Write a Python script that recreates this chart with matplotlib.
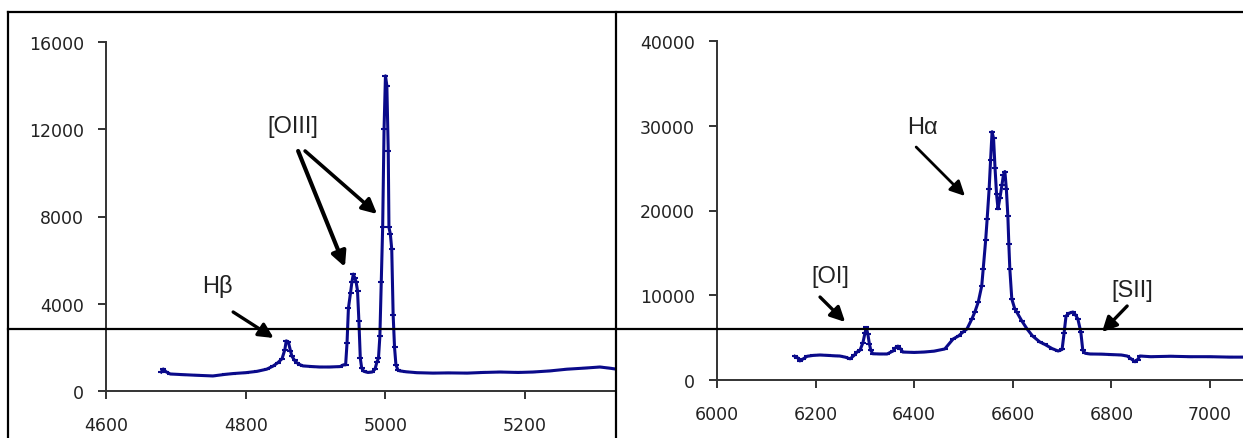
import numpy as np
import matplotlib.pyplot as plt
from matplotlib.lines import Line2D

# blue side of the spectrum (Hb, [OIII])
blue_wl = [4679, 4682, 4686, 4692, 4710, 4730, 4753, 4770, 4782, 4800,
           4816, 4830, 4839, 4846, 4852, 4856, 4858, 4861, 4864, 4866,
           4870, 4873, 4878, 4882, 4895, 4906, 4920, 4935, 4940, 4943,
           4945, 4947, 4950, 4952, 4954, 4956, 4958, 4960, 4962, 4964,
           4966, 4969, 4975, 4981, 4985, 4988, 4990, 4992, 4994, 4996,
           4998, 5000, 5002, 5004, 5005, 5007, 5009, 5011, 5013, 5015,
           5018, 5021, 5030, 5045, 5068, 5090, 5117, 5140, 5164, 5190,
           5211, 5235, 5260, 5285, 5307, 5320, 5329]
blue_flux = [870, 1010, 880, 780, 750, 720, 690, 760, 800, 840,
             900, 1000, 1140, 1300, 1480, 1900, 2300, 2250, 1850, 1600,
             1400, 1300, 1200, 1150, 1120, 1100, 1100, 1120, 1200, 1200,
             2200, 3800, 4500, 5000, 5360, 5200, 5000, 4600, 3200, 1500,
             1050, 900, 850, 870, 1000, 1350, 1500, 2500, 5000, 7500,
             12000, 14450, 14000, 11000, 7500, 7200, 6500, 3500, 2000, 1200,
             950, 920, 880, 840, 820, 830, 820, 850, 870, 850,
             870, 920, 1000, 1050, 1100, 1050, 1010]

# red side of the spectrum ([OI], Ha+[NII], [SII])
red_wl = [6158, 6163, 6168, 6175, 6183, 6195, 6209, 6225, 6240, 6249,
          6260, 6270, 6278, 6284, 6290, 6296, 6300, 6303, 6306, 6309,
          6312, 6316, 6330, 6345, 6357, 6362, 6367, 6372, 6377, 6400,
          6420, 6440, 6462, 6479, 6490, 6499, 6507, 6517, 6523, 6530,
          6537, 6540, 6545, 6548, 6552, 6555, 6558, 6561, 6564, 6567,
          6570, 6574, 6578, 6581, 6584, 6587, 6590, 6592, 6594, 6598,
          6604, 6608, 6618, 6629, 6640, 6655, 6665, 6680, 6692, 6700,
          6704, 6708, 6715, 6722, 6727, 6732, 6738, 6742, 6747, 6757,
          6780, 6800, 6820, 6832, 6840, 6848, 6853, 6858, 6880, 6920,
          6960, 7000, 7040, 7067]
red_flux = [2800, 2650, 2250, 2500, 2800, 2900, 2950, 2900, 2850, 2830,
            2700, 2500, 2900, 3300, 3500, 4400, 5500, 6200, 5400, 4300,
            3500, 3100, 3070, 3070, 3420, 3800, 4000, 3700, 3300, 3250,
            3300, 3400, 3660, 4840, 5200, 5660, 6020, 7200, 8020, 9200,
            11100, 13100, 16500, 19000, 22500, 26000, 29300, 28500, 25000, 22000,
            20200, 21500, 23000, 24200, 24600, 22500, 19350, 16000, 13100, 9560,
            8400, 8020, 7000, 6020, 5200, 4480, 4200, 3700, 3420, 3600,
            5500, 7550, 7900, 8020, 7700, 7200, 5660, 3500, 3150, 3070,
            3050, 3000, 2950, 2830, 2500, 2150, 2400, 2830, 2750, 2800,
            2750, 2750, 2700, 2700]

blue_ticks = [4600, 4800, 5000, 5200]
blue_yticks = [0, 4000, 8000, 12000, 16000]
red_ticks = [6000, 6200, 6400, 6600, 6800, 7000]
red_yticks = [0, 10000, 20000, 30000, 40000]

W, H = 1243, 439
fig = plt.figure(figsize=(W / 100, H / 100), dpi=100)
fig.patch.set_facecolor('white')

navy = '#0a0a8a'
lab_font = dict(family=['Liberation Sans', 'DejaVu Sans'], fontsize=17, color='#222222')


def style(ax):
    for s in ['top', 'right']:
        ax.spines[s].set_visible(False)
    for s in ['left', 'bottom']:
        ax.spines[s].set_linewidth(1.4)
        ax.spines[s].set_color('#333333')
    ax.tick_params(direction='out', length=6, width=1.4, color='#333333',
                   labelsize=12.5, labelcolor='#222222')
    ax.tick_params(axis='y', pad=10)
    ax.tick_params(axis='x', pad=12)
    ax.patch.set_alpha(0)


def arrow(ax, tail, head, lw=2.4):
    ax.annotate('', xy=head, xytext=tail,
                arrowprops=dict(arrowstyle='-|>', lw=lw, color='black',
                                mutation_scale=22, shrinkA=0, shrinkB=0))


# left panel
ax1 = fig.add_axes([106 / W, 1 - 392 / H, 510 / W, 349 / H])
ax1.plot(blue_wl, blue_flux, color=navy, lw=2.2, marker='_', ms=5, mew=1.5)
ax1.set_xlim(4600, 5330)
ax1.set_ylim(0, 16000)
ax1.set_xticks(blue_ticks)
ax1.set_yticks(blue_yticks)
style(ax1)
ax1.text(4760, 4814, 'Hβ', ha='center', va='center', **lab_font)
arrow(ax1, (4782, 3622), (4840, 2430))
ax1.text(4868, 12149, '[OIII]', ha='center', va='center', **lab_font)
arrow(ax1, (4875, 11003), (4942, 5685), lw=3)
arrow(ax1, (4885, 11003), (4988, 8115), lw=2.6)

# right panel
ax2 = fig.add_axes([717 / W, 1 - 381 / H, 526 / W, 339 / H])
ax2.plot(red_wl, red_flux, color=navy, lw=2.2, marker='_', ms=5, mew=1.5)
ax2.set_xlim(6000, 7067)
ax2.set_ylim(0, 40000)
ax2.set_xticks(red_ticks)
ax2.set_yticks(red_yticks)
style(ax2)
ax2.text(6416, 29850, 'Hα', ha='center', va='center', **lab_font)
arrow(ax2, (6404, 27490), (6503, 21710), lw=2)
ax2.text(6229, 12270, '[OI]', ha='center', va='center', **lab_font)
arrow(ax2, (6209, 9790), (6260, 6840))
ax2.text(6842, 10620, '[SII]', ha='center', va='center', **lab_font)
arrow(ax2, (6832, 8730), (6781, 5660))

# panel frames and the rule running across both
def fline(x0, y0, x1, y1):
    fig.add_artist(Line2D([x0 / W, x1 / W], [1 - y0 / H, 1 - y1 / H],
                          color='black', lw=1.6, transform=fig.transFigure))


fline(8, 13, W, 13)
fline(8, 13, 8, H)
fline(616, 13, 616, H)
fline(8, 330, W, 330)

fig.savefig('out.png', dpi=100)
